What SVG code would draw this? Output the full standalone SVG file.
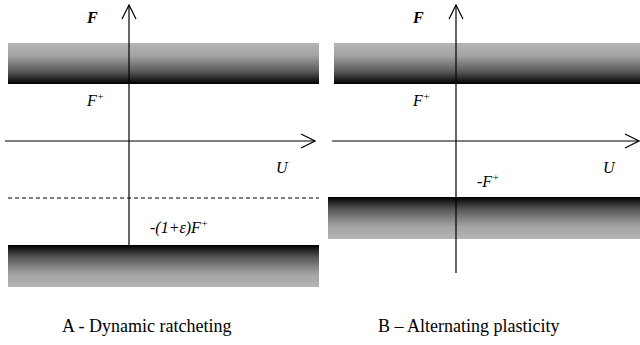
<svg xmlns="http://www.w3.org/2000/svg" width="640" height="345" viewBox="0 0 640 345">
<defs>
<linearGradient id="gDown" x1="0" y1="0" x2="0" y2="1">
<stop offset="0" stop-color="#b4b4b4"/>
<stop offset="0.3" stop-color="#a4a4a4"/>
<stop offset="0.7" stop-color="#585858"/>
<stop offset="1" stop-color="#000"/>
</linearGradient>
<linearGradient id="gUp" x1="0" y1="1" x2="0" y2="0">
<stop offset="0" stop-color="#b4b4b4"/>
<stop offset="0.3" stop-color="#a4a4a4"/>
<stop offset="0.7" stop-color="#585858"/>
<stop offset="1" stop-color="#000"/>
</linearGradient>
<marker id="arr" viewBox="0 0 16 16" refX="15" refY="8" markerWidth="16" markerHeight="16" markerUnits="userSpaceOnUse" orient="auto">
<path d="M1,1 L15,8 L1,15" fill="none" stroke="#000" stroke-width="1.2"/>
</marker>
<style>
.ax{stroke:#000;stroke-width:1.2;fill:none}
.lbl{font-family:"Liberation Serif","Times New Roman",serif;font-style:italic;font-size:16px;fill:#000}
.sup{font-size:11px}
.cap{font-family:"Liberation Serif","Times New Roman",serif;font-size:18px;fill:#000}
</style>
</defs>

<g id="panelA">
<g id="A-topbar"><rect x="8" y="43" width="311" height="41" fill="url(#gDown)"/></g>
<g id="A-bottombar"><rect x="8" y="245" width="311" height="42" fill="url(#gUp)"/></g>
<g id="A-connectors">
<line class="ax" x1="129" y1="245" x2="129" y2="5" marker-end="url(#arr)"/>
<line class="ax" x1="5" y1="141" x2="315" y2="141" marker-end="url(#arr)"/>
<line x1="8" y1="198" x2="319" y2="198" stroke="#000" stroke-width="1" stroke-dasharray="4,3"/>
</g>
<text class="lbl" x="87" y="23" font-weight="bold">F</text>
<text class="lbl" x="87" y="106">F<tspan class="sup" dy="-6">+</tspan></text>
<text class="lbl" x="276" y="173">U</text>
<text class="lbl" x="150" y="233">-(1+ε)F<tspan class="sup" dy="-6">+</tspan></text>
<text class="cap" x="62" y="332">A - Dynamic ratcheting</text>
</g>

<g id="panelB">
<g id="B-topbar"><rect x="334" y="43" width="306" height="41" fill="url(#gDown)"/></g>
<g id="B-bottombar"><rect x="328" y="197" width="312" height="42" fill="url(#gUp)"/></g>
<g id="B-connectors">
<line class="ax" x1="456" y1="273" x2="456" y2="5" marker-end="url(#arr)"/>
<line class="ax" x1="332" y1="141" x2="639" y2="141" marker-end="url(#arr)"/>
</g>
<text class="lbl" x="413" y="23" font-weight="bold">F</text>
<text class="lbl" x="413" y="106">F<tspan class="sup" dy="-6">+</tspan></text>
<text class="lbl" x="603" y="173">U</text>
<text class="lbl" x="477" y="187">-F<tspan class="sup" dy="-6">+</tspan></text>
<text class="cap" x="378" y="332">B – Alternating plasticity</text>
</g>
</svg>
